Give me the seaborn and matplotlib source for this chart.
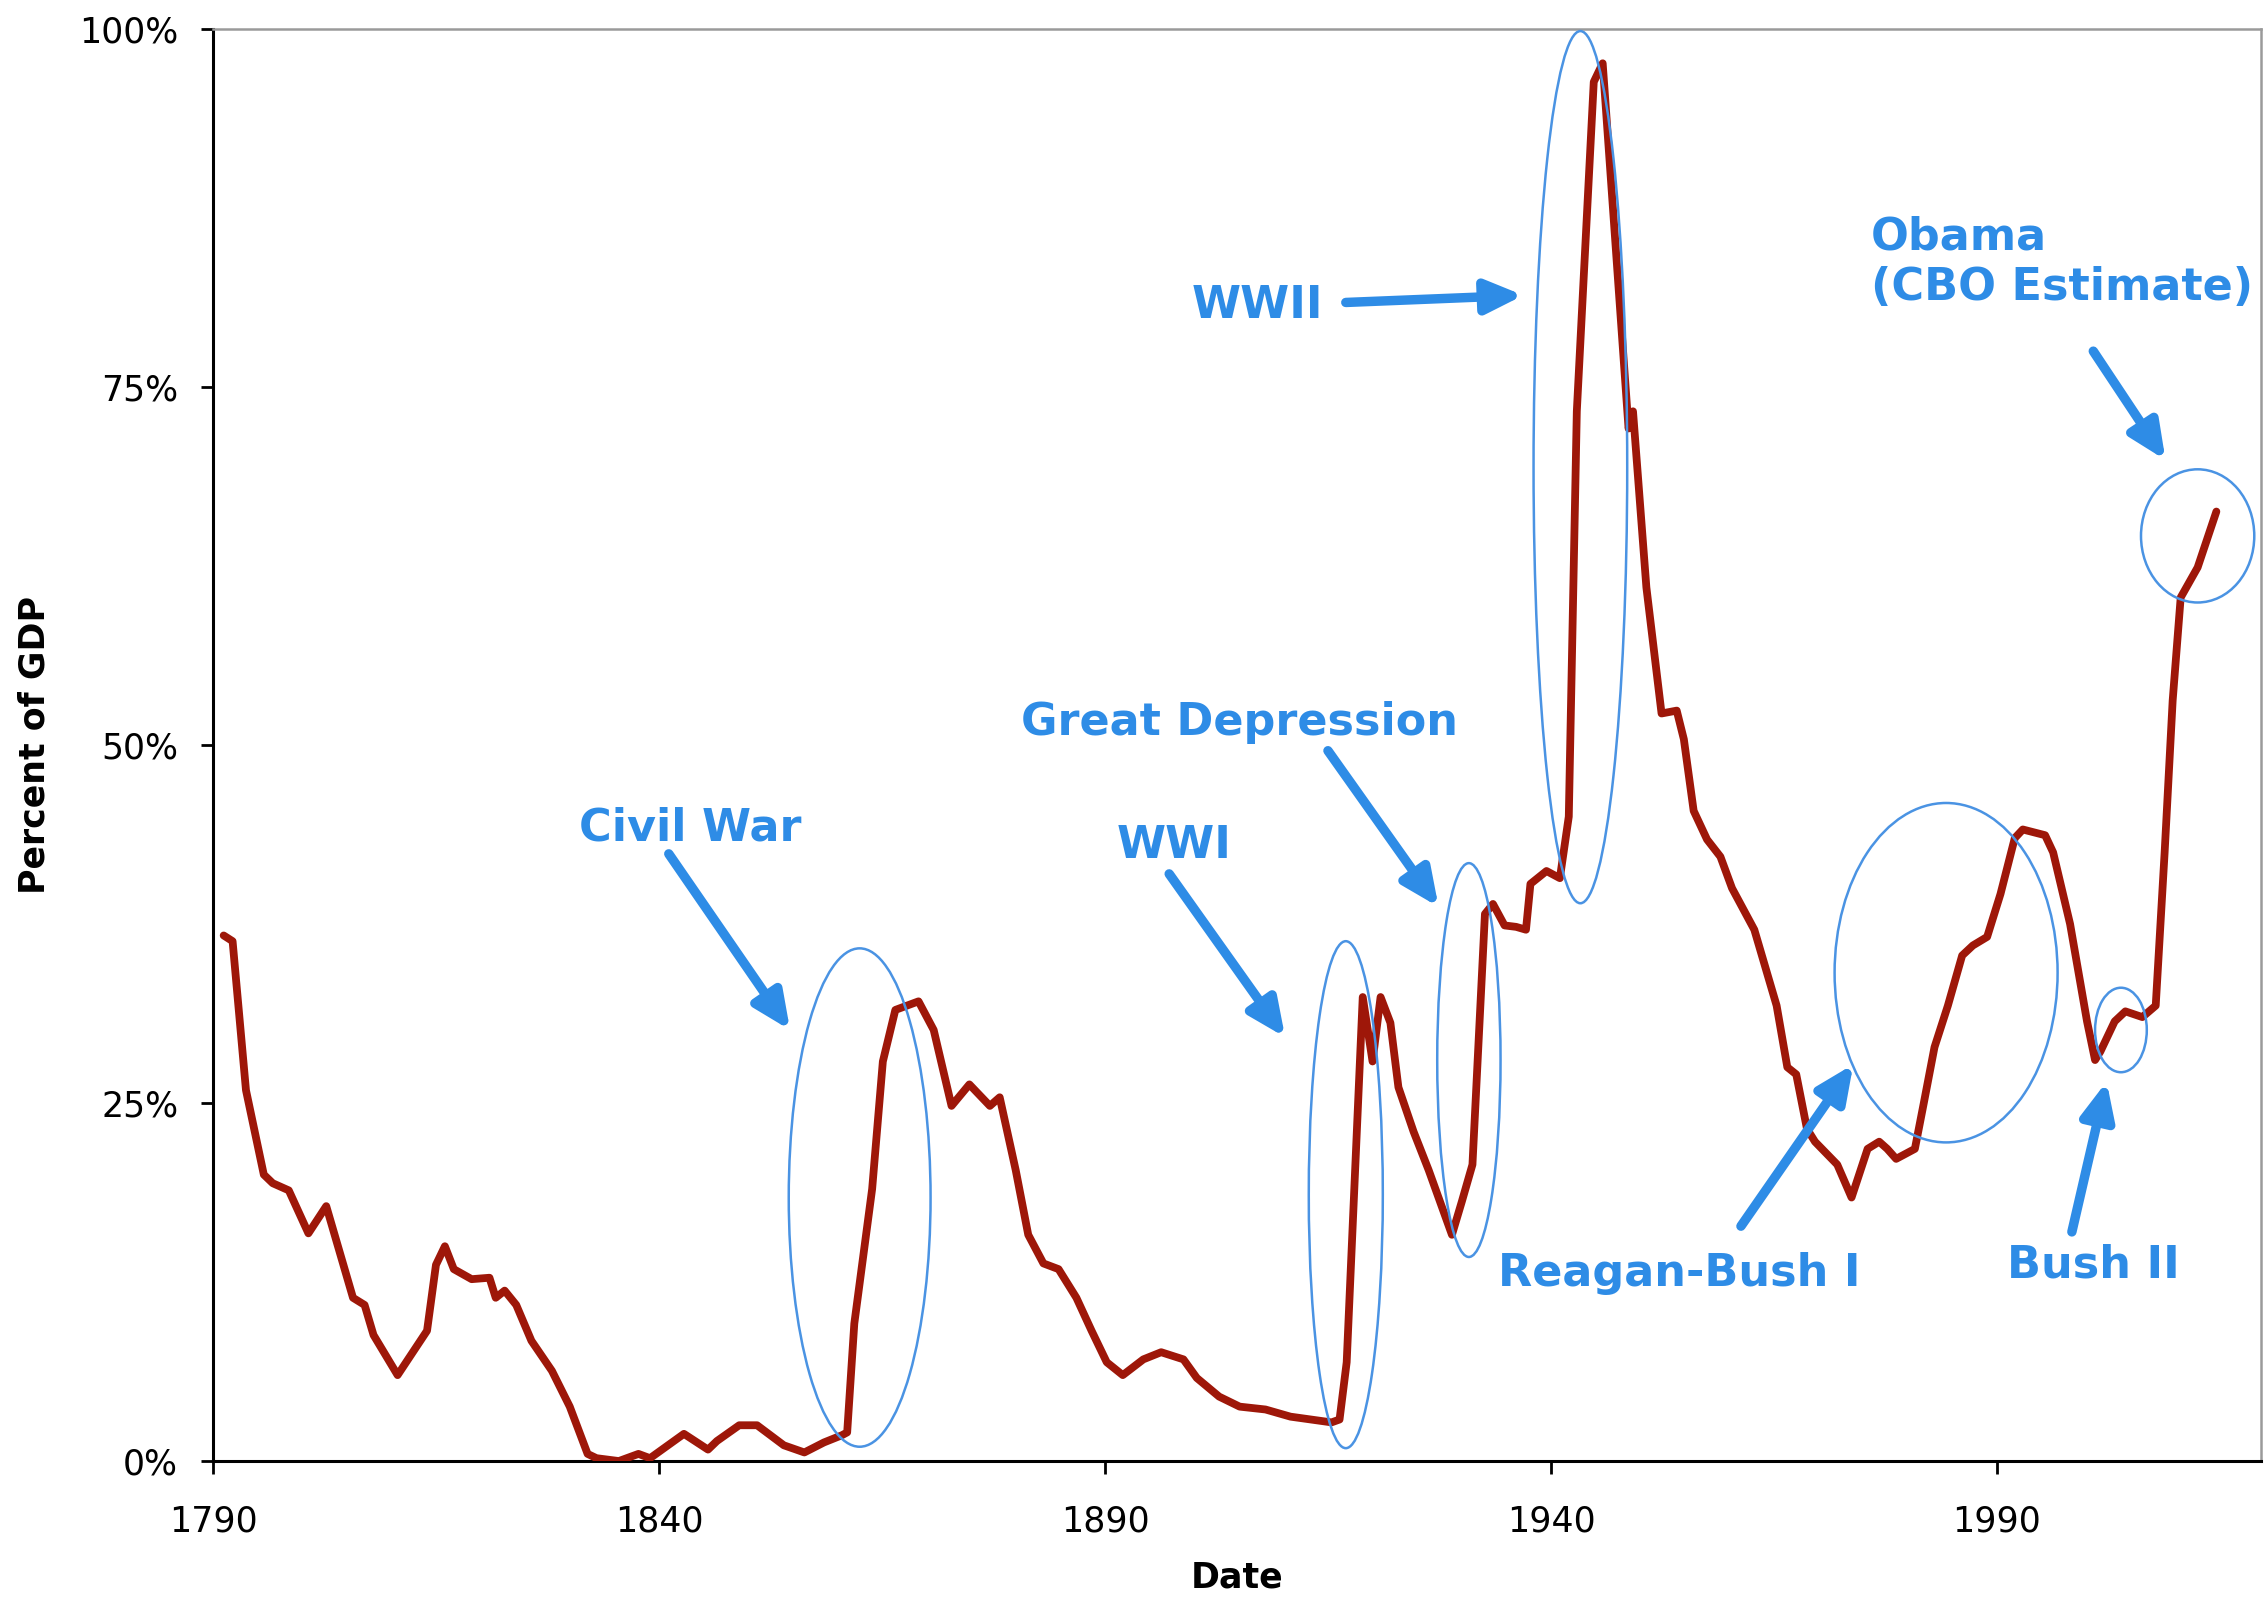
import matplotlib
matplotlib.use("Agg")
import matplotlib.pyplot as plt
from matplotlib.patches import Ellipse
import seaborn as sns
import pandas as pd

# debt as percent of GDP
years = [1791.2, 1792.2, 1793.7, 1795.7, 1796.7, 1798.5, 1800.7, 1802.7, 1805.7, 1807.0,
         1808.0, 1810.7, 1814.0, 1815.0, 1816.0, 1817.0, 1819.0, 1821.0, 1821.7, 1822.7,
         1824.0, 1825.7, 1828.0, 1830.0, 1832.0, 1833.0, 1835.5, 1837.7, 1839.0, 1842.8,
         1845.5, 1846.5, 1849.0, 1851.0, 1854.0, 1856.3, 1858.5, 1860.5, 1861.1, 1861.9,
         1863.9, 1865.1, 1866.5, 1869.1, 1870.8, 1872.8, 1874.8, 1877.1, 1878.2, 1880.0,
         1881.4, 1883.1, 1884.8, 1886.8, 1888.5, 1890.2, 1892.0, 1894.3, 1896.3, 1898.8,
         1900.3, 1902.8, 1905.1, 1908.0, 1910.8, 1913.1, 1915.4, 1916.3, 1917.1, 1918.9,
         1920.0, 1920.9, 1922.0, 1922.9, 1924.6, 1926.3, 1928.9, 1930.0, 1931.2, 1932.6,
         1933.5, 1934.8, 1936.1, 1937.2, 1937.7, 1939.5, 1941.0, 1942.0, 1942.9, 1944.8,
         1945.8, 1948.7, 1949.2, 1950.7, 1952.4, 1954.1, 1954.9, 1956.0, 1957.5, 1959.0,
         1960.3, 1962.8, 1965.3, 1966.5, 1967.5, 1968.7, 1969.6, 1972.1, 1973.7, 1975.5,
         1976.8, 1977.7, 1978.7, 1980.8, 1981.8, 1983.0, 1984.5, 1986.1, 1987.3, 1988.9,
         1990.4, 1992.0, 1992.9, 1995.4, 1996.3, 1998.2, 2000.1, 2001.0, 2001.6, 2003.2,
         2004.4, 2006.3, 2007.8, 2008.8, 2009.4, 2009.7, 2010.6, 2012.5, 2014.6]
pct_gdp = [36.7, 36.3, 25.9, 20.0, 19.4, 18.9, 15.9, 17.8, 11.4, 10.9,
           8.8, 6.0, 9.1, 13.7, 15.0, 13.4, 12.7, 12.8, 11.4, 11.9,
           10.9, 8.4, 6.3, 3.8, 0.5, 0.2, 0.0, 0.5, 0.2, 1.9,
           0.8, 1.4, 2.5, 2.5, 1.1, 0.6, 1.3, 1.8, 2.0, 9.6,
           19.0, 27.9, 31.5, 32.1, 30.1, 24.8, 26.3, 24.8, 25.4, 20.3,
           15.8, 13.8, 13.4, 11.4, 9.1, 6.9, 6.0, 7.1, 7.6, 7.1,
           5.8, 4.5, 3.8, 3.6, 3.1, 2.9, 2.7, 2.9, 6.9, 32.4,
           27.9, 32.4, 30.6, 26.1, 23.0, 20.3, 15.8, 18.1, 20.7, 38.2,
           38.9, 37.4, 37.3, 37.1, 40.3, 41.2, 40.7, 45.0, 73.3, 96.3,
           97.6, 72.1, 73.3, 61.0, 52.2, 52.4, 50.4, 45.4, 43.4, 42.2,
           40.0, 37.1, 31.8, 27.5, 27.0, 23.2, 22.3, 20.7, 18.4, 21.8,
           22.3, 21.8, 21.1, 21.8, 25.0, 28.9, 31.8, 35.3, 36.0, 36.6,
           39.6, 43.5, 44.1, 43.7, 42.5, 37.5, 30.7, 28.0, 28.6, 30.7,
           31.4, 31.0, 31.8, 42.5, 49.6, 53.1, 60.3, 62.4, 66.3]

x_ticks = [1790, 1840, 1890, 1940, 1990]
y_ticks = [0, 25, 50, 75, 100]

# annotations: label, text pos, arrow tail, arrow head, ellipse (center, width, height)
labels = ["Civil War", "WWI", "Great Depression", "WWII",
          "Reagan-Bush I", "Bush II", "Obama\n(CBO Estimate)"]
label_pos = [(1843.5, 44.2), (1897.7, 43.0), (1905.1, 51.6), (1907.1, 80.7),
             (1954.4, 13.1), (2000.8, 13.7), (1975.9, 83.7)]
arrow_tail = [(1841.1, 42.4), (1897.2, 41.0), (1915.0, 49.6), (1917.0, 80.9),
              (1961.3, 16.4), (1998.4, 16.0), (2000.8, 77.5)]
arrow_head = [(1854.7, 30.1), (1910.2, 29.6), (1927.4, 38.7), (1936.9, 81.4),
              (1973.9, 27.7), (2002.3, 26.5), (2008.9, 69.9)]
ell_center = [(1862.5, 18.4), (1917.0, 18.6), (1930.8, 28.0), (1943.3, 69.4),
              (1984.3, 34.1), (2003.9, 30.1), (2012.5, 64.6)]
ell_w = [15.9, 8.3, 7.1, 10.5, 25.0, 5.8, 12.7]
ell_h = [34.8, 35.4, 27.5, 60.9, 23.7, 5.9, 9.3]

df = pd.DataFrame({'year': years, 'pct': pct_gdp})

sns.set_style("white")
plt.rcParams['font.family'] = ['DejaVu Sans']
plt.rcParams['text.color'] = 'black'
plt.rcParams['axes.labelcolor'] = 'black'
plt.rcParams['xtick.color'] = 'black'
plt.rcParams['ytick.color'] = 'black'

fig = plt.figure(figsize=(11.34, 7.99), dpi=200)
ax = fig.add_axes([0.0939, 0.0857, 0.903, 0.8962])

sns.lineplot(data=df, x='year', y='pct', ax=ax, color='#9e1709', linewidth=2.8,
             estimator=None, sort=False, zorder=3)

blue = '#2e8ce6'
ell_blue = '#4a93e3'
for i in range(len(labels)):
    ax.add_patch(Ellipse(ell_center[i], ell_w[i], ell_h[i], fill=False,
                         edgecolor=ell_blue, linewidth=0.9, zorder=4))
    ax.annotate('', xy=arrow_head[i], xytext=arrow_tail[i],
                arrowprops=dict(arrowstyle='-|>,head_length=1.1,head_width=0.5',
                                color=blue, lw=3.4, mutation_scale=10,
                                shrinkA=0, shrinkB=0), zorder=5)
    if "Obama" in labels[i]:
        ax.text(*label_pos[i], labels[i], color=blue, fontsize=16, fontweight='bold',
                ha='left', va='center', linespacing=1.2, zorder=5)
    else:
        ax.text(*label_pos[i], labels[i], color=blue, fontsize=16, fontweight='bold',
                ha='center', va='center', zorder=5)

ax.set_xlim(1790, 2019.6)
ax.set_ylim(0, 100)
ax.set_xticks(x_ticks)
ax.set_yticks(y_ticks)
ax.set_yticklabels([f"{v}%" for v in y_ticks])
ax.tick_params(axis='x', direction='out', length=4.5, width=1.0, pad=11,
               labelsize=12.5, bottom=True)
ax.tick_params(axis='y', direction='out', length=4.5, width=1.0, pad=8,
               labelsize=12.5, left=True)

for side in ['left', 'bottom']:
    ax.spines[side].set_color('black')
    ax.spines[side].set_linewidth(1.1)
for side in ['top', 'right']:
    ax.spines[side].set_color('#9a9a9a')
    ax.spines[side].set_linewidth(0.9)

ax.set_xlabel("Date", fontsize=12.5, fontweight='bold', labelpad=8)
ax.set_ylabel("Percent of GDP", fontsize=12.5, fontweight='bold', labelpad=10)

fig.savefig('out.png', dpi=200)
